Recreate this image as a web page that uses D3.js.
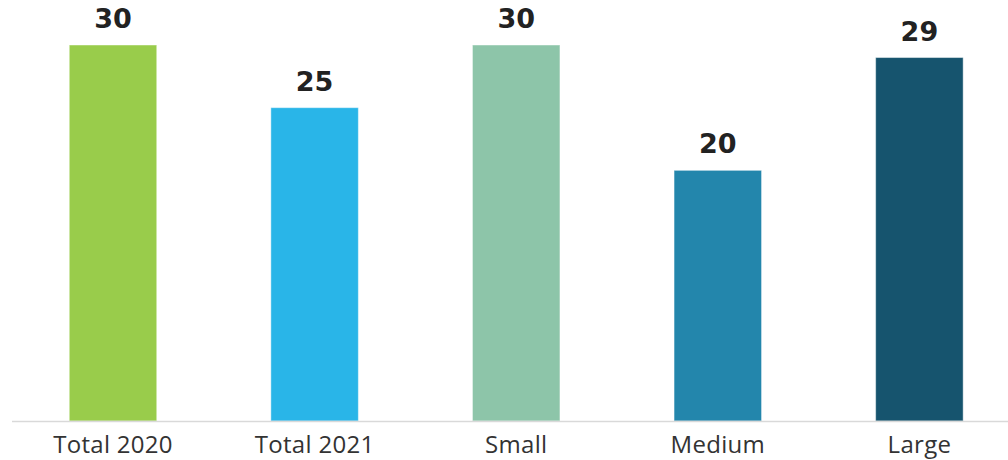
<!DOCTYPE html>
<html>
<head>
<meta charset="utf-8">
<script src="https://cdn.jsdelivr.net/npm/d3@7"></script>
<style>
  html, body { margin: 0; padding: 0; background: #ffffff; }
  svg { display: block; }
</style>
</head>
<body>
<svg id="chart" width="1008" height="460"></svg>
<script>
const categories = ["Total 2020", "Total 2021", "Small", "Medium", "Large"];
const values = [30, 25, 30, 20, 29];
const colors = ["#99CC4B", "#29B5E8", "#8DC5A9", "#2386AC", "#16546E"];

const W = 1008, H = 460;
const baseline = 421;
const svg = d3.select("#chart");

const x = d3.scaleBand()
  .domain(categories)
  .range([12.2, 1020.2])
  .paddingInner(0.566)
  .paddingOuter(0.283);

const y = d3.scaleLinear()
  .domain([0, 30])
  .range([baseline, 45]);

svg.selectAll("rect.bar")
  .data(categories)
  .join("rect")
  .attr("class", "bar")
  .attr("x", d => x(d))
  .attr("width", x.bandwidth())
  .attr("y", (d, i) => y(values[i]))
  .attr("height", (d, i) => baseline - y(values[i]))
  .attr("fill", (d, i) => colors[i])
  .attr("stroke", "rgba(255,255,255,0.45)")
  .attr("stroke-width", 1);

// category axis
const axis = d3.axisBottom(x).tickSize(0).tickPadding(0);
const gAxis = svg.append("g")
  .attr("transform", `translate(0,${baseline})`)
  .call(axis);
gAxis.select(".domain").remove();
gAxis.selectAll("text")
  .attr("y", 32)
  .attr("dy", 0)
  .attr("font-family", "'Open Sans', 'DejaVu Sans', sans-serif")
  .attr("font-size", 24)
  .attr("font-weight", 400)
  .attr("letter-spacing", 0.3)
  .attr("fill", "#333333");

svg.append("line")
  .attr("x1", 12).attr("x2", W)
  .attr("y1", baseline + 0.5).attr("y2", baseline + 0.5)
  .attr("stroke", "#d9d9d9")
  .attr("stroke-width", 1.5);

// value labels
svg.selectAll("text.val")
  .data(categories)
  .join("text")
  .attr("class", "val")
  .attr("x", d => x(d) + x.bandwidth() / 2)
  .attr("y", (d, i) => y(values[i]) - 17)
  .attr("text-anchor", "middle")
  .attr("font-family", "'DejaVu Sans', sans-serif")
  .attr("font-weight", 700)
  .attr("font-size", 27)
  .attr("fill", "#222222")
  .text((d, i) => values[i]);
</script>
</body>
</html>
